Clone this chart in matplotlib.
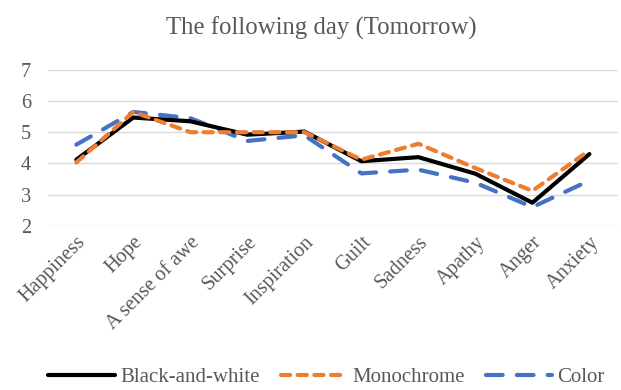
import numpy as np
import matplotlib.pyplot as plt

# Emotions reported the following day
categories = ["Happiness", "Hope", "A sense of awe", "Surprise", "Inspiration",
              "Guilt", "Sadness", "Apathy", "Anger", "Anxiety"]
bw = [4.12, 5.47, 5.35, 4.92, 5.02, 4.07, 4.2, 3.67, 2.74, 4.3]
mono = [4.03, 5.65, 5.0, 5.0, 5.0, 4.12, 4.63, 3.85, 3.12, 4.42]
color = [4.6, 5.65, 5.45, 4.72, 4.9, 3.68, 3.8, 3.38, 2.6, 3.45]

plt.rcParams['font.family'] = ['Liberation Serif', 'DejaVu Serif']
grey = '#595959'

fig = plt.figure(figsize=(6.21, 3.9), dpi=100)
ax = fig.add_axes([0.077, 0.421, 0.918, 0.4])

x = np.arange(len(categories))
ax.plot(x, bw, color='black', lw=3, solid_capstyle='round', label='Black-and-white', zorder=3)
ax.plot(x, mono, color='#ED7D31', lw=3, dashes=(2.2, 1.8), dash_capstyle='round',
        label='Monochrome', zorder=4)
ax.plot(x, color, color='#4472C4', lw=3, dashes=(4.0, 3.4), dash_capstyle='round',
        label='Color', zorder=2)

ax.set_xlim(-0.5, len(categories) - 0.5)
ax.set_ylim(2, 7)
ax.set_yticks(range(2, 8))
ax.set_xticks(x)
ax.set_xticklabels(categories, rotation=45, ha='right', rotation_mode='anchor')
ax.tick_params(axis='both', length=0, labelsize=14.7, labelcolor=grey)
ax.tick_params(axis='y', pad=12)
ax.tick_params(axis='x', pad=5)
ax.grid(axis='y', color='#D9D9D9', lw=1)
ax.set_axisbelow(True)
for s in ax.spines.values():
    s.set_visible(False)

fig.text(0.518, 0.928, "The following day (Tomorrow)", ha='center', va='center',
         fontsize=17.8, color=grey)

leg = fig.legend(loc='center', bbox_to_anchor=(0.526, 0.033), ncol=3, frameon=False,
                 fontsize=15, handlelength=3.2, columnspacing=1.0, handletextpad=0.25,
                 borderpad=0, borderaxespad=0)
for t in leg.get_texts():
    t.set_color(grey)

fig.savefig('out.png', dpi=100)
